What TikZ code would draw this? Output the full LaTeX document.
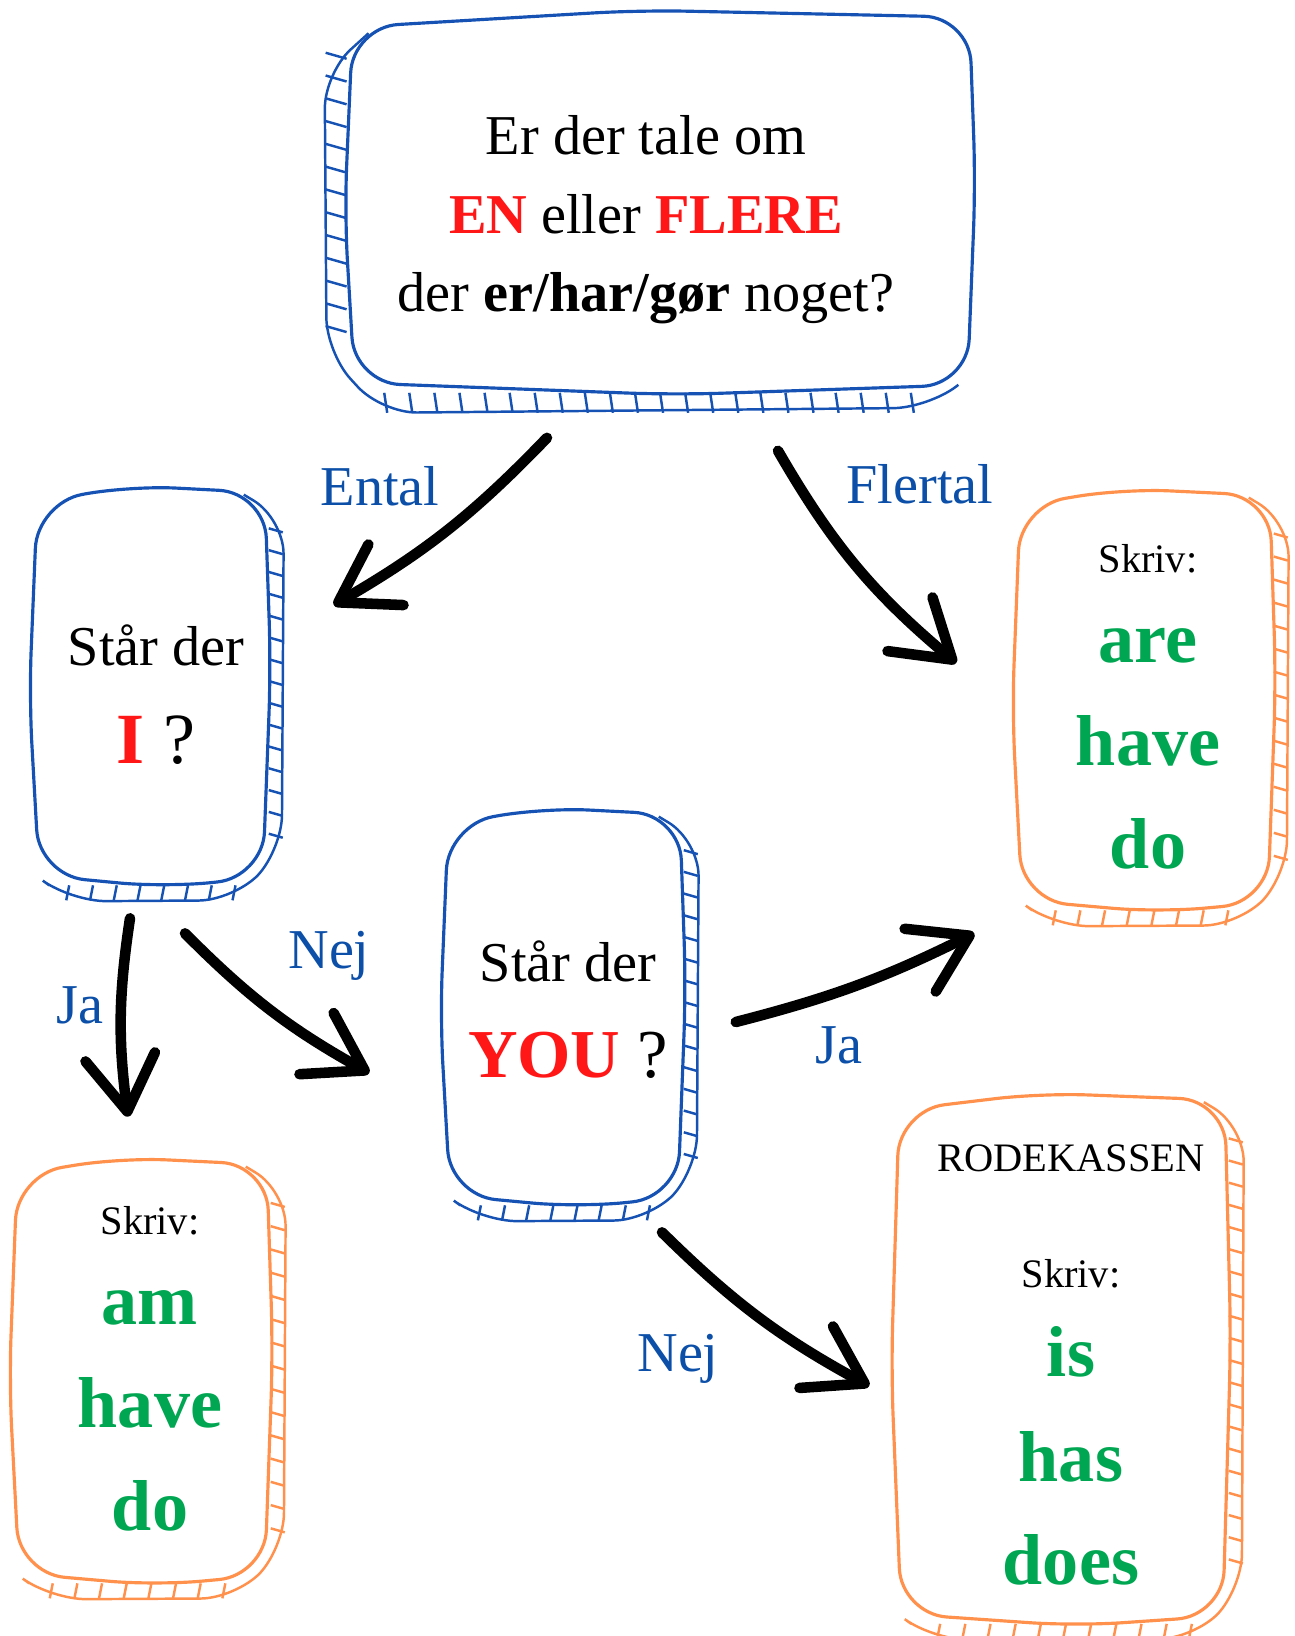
\documentclass[tikz,border=0pt]{standalone}
\usepackage{fontspec}
\setmainfont{Liberation Serif}
\usetikzlibrary{arrows.meta, positioning, calc}

\definecolor{qblue}{RGB}{21,82,179}
\definecolor{lblue}{RGB}{11,79,168}
\definecolor{borange}{RGB}{255,145,77}
\definecolor{wgreen}{RGB}{0,166,81}
\definecolor{qred}{RGB}{255,23,23}

\newcommand{\rword}[1]{\textbf{\color{qred}#1}}
\newcommand{\gword}[1]{\textbf{\color{wgreen}#1}}

% hand drawn outline round a node
\newcommand{\sketchbox}[2]{%
  \draw[#2, line width=0.9pt, rounded corners=13pt]
    ($(#1.north west)+(6,14)$) -- ($(#1.north)+(-20,-3)$)
    -- ($(#1.north east)+(-4,4)$) -- ($(#1.east)+(2,-20)$)
    -- ($(#1.south east)+(-6,-8)$) -- ($(#1.south)+(15,2)$)
    -- ($(#1.south west)+(8,-10)$) -- ($(#1.west)+(-2,10)$) -- cycle;}
% hatched strip, right and bottom: node, colour, side ticks, bottom ticks
\newcommand{\hatchR}[4]{%
  \draw[#2, line width=0.7pt, rounded corners=10pt]
    ($(#1.north east)+(-25,6)$) -- ($(#1.north east)+(15,30)$)
    -- ($(#1.south east)+(13,-35)$) -- ($(#1.south east)+(-35,15)$)
    -- ($(#1.south west)+(40,16)$) -- ($(#1.south west)+(18,0)$);
  \foreach \t in {#3}
    \draw[#2, line width=0.7pt] ($(#1.north east)!\t!(#1.south east)$) -- ++(14,4);
  \foreach \t in {#4}
    \draw[#2, line width=0.7pt] ($(#1.south west)!\t!(#1.south east)$) -- ++(-3,15);}
% hatched strip, left and bottom
\newcommand{\hatchL}[4]{%
  \draw[#2, line width=0.7pt, rounded corners=10pt]
    ($(#1.north west)+(22,20)$) -- ($(#1.north west)+(-22,60)$)
    -- ($(#1.south west)+(-20,-40)$) -- ($(#1.south west)+(35,20)$)
    -- ($(#1.south east)+(-45,15)$) -- ($(#1.south east)+(-15,-8)$);
  \foreach \t in {#3}
    \draw[#2, line width=0.7pt] ($(#1.north west)!\t!(#1.south west)$) -- ++(-21,-6);
  \foreach \t in {#4}
    \draw[#2, line width=0.7pt] ($(#1.south west)!\t!(#1.south east)$) -- ++(3,20);}

\begin{document}
\begin{tikzpicture}[x=0.01cm,y=-0.01cm,
  box/.style={inner sep=0pt},
  txt/.style={align=center, inner sep=0pt},
  lab/.style={text=lblue, font=\fontsize{16}{20}\selectfont, anchor=base},
  arr/.style={-{Straight Barb[length=5.5mm,width=7mm,round]}, line width=3pt, line cap=round}]
\useasboundingbox (0,0) rectangle (1295,1636);

% boxes
\node[box, minimum width=6.25cm, minimum height=3.78cm] (q) at (660,203) {};
\node[box, minimum width=2.36cm, minimum height=3.95cm] (i) at (150,687) {};
\node[box, minimum width=2.4cm, minimum height=3.93cm] (you) at (563,1008) {};
\node[box, minimum width=2.58cm, minimum height=4.17cm] (are) at (1144,701) {};
\node[box, minimum width=2.58cm, minimum height=4.21cm] (am) at (141,1372) {};
\node[box, minimum width=3.34cm, minimum height=5.26cm] (is) at (1061,1360) {};

\sketchbox{q}{qblue}   \hatchL{q}{qblue}{0.12,0.18,...,0.86}{0.06,0.1,...,0.93}
\sketchbox{i}{qblue}   \hatchR{i}{qblue}{0.1,0.155,...,0.88}{0.16,0.26,...,0.9}
\sketchbox{you}{qblue} \hatchR{you}{qblue}{0.1,0.155,...,0.88}{0.16,0.26,...,0.9}
\sketchbox{are}{borange} \hatchR{are}{borange}{0.1,0.155,...,0.88}{0.16,0.255,...,0.9}
\sketchbox{am}{borange}  \hatchR{am}{borange}{0.1,0.155,...,0.88}{0.16,0.255,...,0.9}
\sketchbox{is}{borange}  \hatchR{is}{borange}{0.08,0.122,...,0.9}{0.14,0.215,...,0.9}

% texts
\node[txt, font=\fontsize{16}{22.3}\selectfont] (qt) at ([shift={(-14,17)}]q.center)
  {Er der tale om\\\rword{EN} eller \rword{FLERE}\\der \textbf{er/har/gør} noget?};
\node[txt, font=\fontsize{16}{27.9}\selectfont] (it) at ([shift={(6,8)}]i.center)
  {Står der\\{\fontsize{20.5}{24}\selectfont\rword{I} ?}};
\node[txt, font=\fontsize{16}{27.3}\selectfont] (yout) at ([shift={(5,2)}]you.center)
  {Står der\\{\fontsize{19.5}{24}\selectfont\rword{YOU} ?}};
\node[txt, font=\fontsize{20.5}{29.3}\selectfont] (aret) at ([shift={(4,6)}]are.center)
  {{\fontsize{11.5}{14}\selectfont Skriv:}\\[-3.7pt]\gword{are}\\\gword{have}\\\gword{do}};
\node[txt, font=\fontsize{20.5}{29.3}\selectfont] (amt) at ([shift={(9,-3)}]am.center)
  {{\fontsize{11.5}{14}\selectfont Skriv:}\\[-3.7pt]\gword{am}\\\gword{have}\\\gword{do}};
\node[txt, font=\fontsize{20.5}{29.3}\selectfont] (ist) at ([shift={(10,5)}]is.center)
  {{\fontsize{11.5}{14}\selectfont RODEKASSEN}\\[3.7pt]{\fontsize{11.5}{14}\selectfont Skriv:}\\[-3.9pt]\gword{is}\\[0.5pt]\gword{has}\\\gword{does}};

% arrows
\draw[arr] ([shift={(-113,45)}]q.south) to[bend left=8] ([shift={(65,-82)}]i.east);
\draw[arr] ([shift={(118,58)}]q.south) to[bend right=10] ([shift={(-58,-38)}]are.west);
\draw[arr] ([shift={(-20,33)}]i.south) to[bend right=8] ([shift={(-13,-44)}]am.north);
\draw[arr] ([shift={(35,48)}]i.south) to[bend right=8] ([shift={(-73,65)}]you.west);
\draw[arr] ([shift={(52,14)}]you.east) to[bend right=6] ([shift={(-40,23)}]are.south west);
\draw[arr] ([shift={(99,27)}]you.south) to[bend right=8] ([shift={(-24,26)}]is.west);

% labels
\node[lab] (ental) at (380,505) {Ental};
\node[lab] (flertal) at (920,503) {Flertal};
\node[lab] (ja1) at (80,1023) {Ja};
\node[lab] (nej1) at (329,968) {Nej};
\node[lab] (ja2) at (839,1063) {Ja};
\node[lab] (nej2) at (678,1371) {Nej};
\end{tikzpicture}
\end{document}
